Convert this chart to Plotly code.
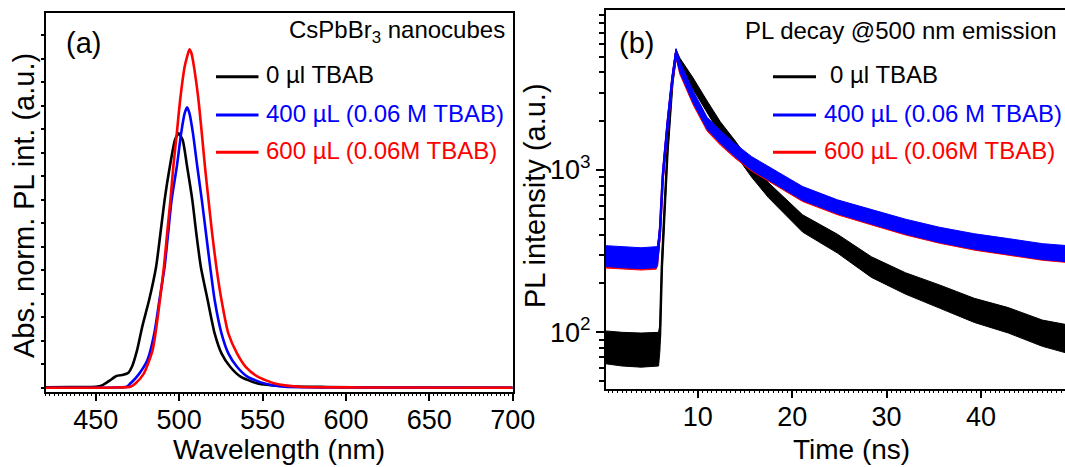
import plotly.graph_objects as go

# ---------------- Panel (a): PL spectra ----------------
wl_0 = [420, 435, 450.0, 454.1, 458.3, 462.4, 466.5, 469.6, 471.7, 474.8, 477.9, 482.0, 486.2, 488.8,
        491.3, 494.4, 497.5, 499.6, 502.1, 504.8, 507.9, 510.3, 513.0, 517.1, 521.3, 525.4, 530.6,
        536.8, 547.1, 561.6, 588.4, 620, 700]
pl_0 = [0.002, 0.003, 0.004, 0.011, 0.030, 0.050, 0.055, 0.064, 0.089, 0.160, 0.260, 0.373, 0.515, 0.657,
        0.799, 0.940, 1.054, 1.082, 1.054, 0.940, 0.799, 0.657, 0.515, 0.373, 0.231, 0.146, 0.089,
        0.047, 0.018, 0.007, 0.003, 0.001, 0.0]

wl_400 = [420, 450, 462, 468.6, 470.7, 473.8, 476.9, 481.0, 485.1, 488.2, 491.3, 493.4, 495.5, 498.6,
          501.2, 503.3, 504.8, 506.2, 508.3, 510.9, 513.6, 516.1, 518.6, 521.3, 525.4, 529.5, 534.7,
          540.9, 551.2, 563.6, 600, 700]
pl_400 = [0.0, 0.0, 0.001, 0.004, 0.018, 0.040, 0.068, 0.118, 0.231, 0.373, 0.515, 0.657, 0.799, 0.940,
          1.082, 1.167, 1.193, 1.167, 1.082, 0.940, 0.799, 0.657, 0.515, 0.373, 0.231, 0.146, 0.089,
          0.047, 0.018, 0.004, 0.001, 0.0]

wl_600 = [420, 450, 464, 470.7, 473.8, 478.9, 484.1, 487.2, 490.9, 492.8, 494.8, 496.5, 498.6, 500.6,
          503.3, 504.8, 506.2, 507.4, 508.9, 511.6, 513.6, 515.5, 517.6, 519.8, 522.3, 525.4, 529.5,
          534.7, 539.9, 547.1, 557.4, 571.9, 610, 700]
pl_600 = [0.0, 0.0, 0.001, 0.004, 0.018, 0.061, 0.160, 0.302, 0.515, 0.657, 0.799, 0.940, 1.082, 1.224,
          1.366, 1.409, 1.440, 1.423, 1.366, 1.224, 1.082, 0.940, 0.799, 0.657, 0.515, 0.373, 0.231,
          0.146, 0.089, 0.047, 0.018, 0.004, 0.001, 0.0]

# ---------------- Panel (b): PL decay ----------------
t_0 = [0.25, 2, 4, 5.85, 6.0, 6.2, 6.45, 6.8, 7.3, 7.7, 8.1, 9.5, 11, 12.4, 13.9, 15.7, 17.5, 19.3,
       21.1, 24.8, 28.4, 32, 35.6, 39.3, 42.9, 46.5, 48.9]
dec_0 = [82, 80, 79, 80, 95, 254, 515, 1330, 3420, 5240, 4540, 3420, 2455, 1807, 1393, 1000, 753, 594,
         470, 353, 253, 200, 166, 137, 119, 99, 92]
dec_0_lo = [64, 62, 61, 62, 78, 225, 470, 1220, 3200, 4900, 4200, 3150, 2260, 1650, 1270, 905, 675, 528,
            415, 308, 218, 172, 141, 115, 99, 82, 75]
dec_0_hi = [102, 100, 99, 100, 112, 285, 560, 1440, 3650, 5550, 4900, 3700, 2660, 1980, 1530, 1100, 835, 665,
            530, 402, 292, 233, 196, 162, 142, 119, 112]

t_400 = [0.25, 2, 4, 5.6, 5.75, 6.0, 6.3, 6.8, 7.3, 7.7, 8.1, 9.5, 11, 12.4, 13.9, 15.7, 17.5, 19.3,
         21.1, 24.8, 28.4, 32, 35.6, 39.3, 42.9, 46.5, 48.9]
dec_400 = [295, 290, 286, 290, 300, 425, 930, 1930, 3620, 5300, 4330, 2830, 1940, 1600, 1330, 1100, 955, 828,
           718, 594, 515, 448, 398, 362, 337, 314, 306]
dec_400_lo = [255, 250, 247, 250, 262, 385, 850, 1780, 3380, 4950, 4000, 2600, 1780, 1460, 1215, 1000, 868, 750,
              650, 538, 465, 403, 358, 325, 302, 281, 273]
dec_400_hi = [342, 337, 332, 337, 342, 465, 1010, 2080, 3860, 5600, 4680, 3080, 2110, 1750, 1460, 1210, 1050, 912,
              792, 655, 570, 498, 444, 405, 378, 352, 343]

t_600 = t_400
dec_600 = [292, 288, 284, 288, 298, 418, 905, 1900, 3580, 5250, 4250, 2770, 1900, 1575, 1310, 1088, 943, 818,
           710, 588, 510, 444, 395, 359, 335, 312, 304]
dec_600_lo = [249, 245, 242, 245, 257, 375, 815, 1735, 3320, 4880, 3900, 2530, 1735, 1425, 1190, 985, 855, 738,
              640, 530, 459, 398, 354, 321, 299, 278, 270]
dec_600_hi = [335, 330, 325, 330, 336, 458, 990, 2060, 3820, 5550, 4600, 3000, 2070, 1720, 1430, 1190, 1035, 900,
              782, 648, 563, 492, 438, 400, 373, 348, 339]

labels_a = ["0 \u00b5l TBAB", "400 \u00b5L (0.06 M TBAB)", "600 \u00b5L (0.06M TBAB)"]
labels_b = ["0 \u00b5l TBAB", "400 \u00b5L (0.06 M TBAB)", "600 \u00b5L (0.06M TBAB)"]
colors = ["#000000", "#0000FF", "#FF0000"]

minor_log = [50, 60, 70, 80, 90, 200, 300, 400, 500, 600, 700, 800, 900,
             2000, 3000, 4000, 5000, 6000, 7000, 8000, 9000]

W, H = 1065, 467
FONT = "Liberation Sans, Arial, sans-serif"


def px(x):
    return x / W


def py(y):
    return 1 - y / H


fig = go.Figure()

# Panel (a) curves
for wl, pl, c in [(wl_0, pl_0, colors[0]), (wl_400, pl_400, colors[1]), (wl_600, pl_600, colors[2])]:
    fig.add_trace(go.Scatter(x=wl, y=pl, mode="lines", line=dict(color=c, width=2.6, shape="spline", smoothing=0.6),
                             xaxis="x", yaxis="y", showlegend=False, hoverinfo="skip"))

# Panel (b) decay bands: black, red, blue (blue on top)
for t, c_, lo, hi, col in [(t_0, dec_0, dec_0_lo, dec_0_hi, colors[0]),
                           (t_600, dec_600, dec_600_lo, dec_600_hi, colors[2]),
                           (t_400, dec_400, dec_400_lo, dec_400_hi, colors[1])]:
    fig.add_trace(go.Scatter(x=list(t) + list(t)[::-1], y=list(hi) + list(lo)[::-1], mode="lines",
                             fill="toself", fillcolor=col, line=dict(color=col, width=1),
                             xaxis="x2", yaxis="y2", showlegend=False, hoverinfo="skip"))
    fig.add_trace(go.Scatter(x=t, y=c_, mode="lines", line=dict(color=col, width=2.5),
                             xaxis="x2", yaxis="y2", showlegend=False, hoverinfo="skip"))

axis_common = dict(showline=True, linecolor="black", linewidth=1.5, showgrid=False, zeroline=False,
                   tickcolor="black", tickwidth=1.5, automargin=False,
                   tickfont=dict(family=FONT, size=27, color="black"))

fig.update_layout(
    width=W, height=H, margin=dict(l=0, r=0, t=0, b=0),
    plot_bgcolor="white", paper_bgcolor="white", showlegend=False,
    font=dict(family=FONT, color="black"),
    xaxis=dict(domain=[px(45.7), px(512.7)], range=[420, 700], dtick=50, tick0=0, ticks="outside", ticklen=7,
               ticklabelstandoff=-4, mirror=True,
               minor=dict(ticks="outside", dtick=2.5, ticklen=2, tickwidth=1, tickcolor="black"),
               anchor="y", **axis_common),
    yaxis=dict(domain=[py(392.3), py(13.3)], range=[-0.0196, 1.593], dtick=0.1, tick0=0, ticks="outside",
               ticklen=3, showticklabels=False, mirror=True, anchor="x", **axis_common),
    xaxis2=dict(domain=[px(605.7), 1.0], range=[0.25, 48.9], tickvals=[10, 20, 30, 40], ticks="outside",
                ticklen=7, ticklabelstandoff=-4, mirror=True,
                minor=dict(ticks="outside", dtick=0.5, ticklen=2, tickwidth=1, tickcolor="black"),
                anchor="y2", **axis_common),
    yaxis2=dict(domain=[py(389.3), py(10)], type="log", range=[1.649, 3.986], tickvals=[100, 1000],
                ticktext=["10<sup>2</sup>", "10<sup>3</sup>"], ticks="outside", ticklen=8,
                minor=dict(tickvals=minor_log, ticks="outside", ticklen=5, tickwidth=1.5, tickcolor="black"),
                anchor="x2", **axis_common),
)

annotations = []
shapes = []


def text(x, y, s, size, xanchor="left", color="black", angle=0, yanchor="middle"):
    annotations.append(dict(x=px(x), y=py(y), xref="paper", yref="paper", text=s, showarrow=False,
                            xanchor=xanchor, yanchor=yanchor, textangle=angle,
                            font=dict(family=FONT, size=size, color=color)))


# Panel labels and titles
text(64, 43, "(a)", 29)
text(617, 43, "(b)", 29)
text(507, 32, "CsPbBr<sub>3</sub> nanocubes", 24, xanchor="right")
text(1059, 30, "PL decay @500 nm emission", 24, xanchor="right")
text(279, 467, "Wavelength (nm)", 28, xanchor="center", yanchor="bottom")
text(851, 467, "Time (ns)", 28, xanchor="center", yanchor="bottom")
text(24, 206, "Abs. norm. PL int. (a.u.)", 29, xanchor="center", angle=-90)
text(535, 196, "PL intensity (a.u.)", 29, xanchor="center", angle=-90)

# Legend keys
rows = [76.7, 115, 152.3]
for i in range(3):
    shapes.append(dict(type="line", xref="paper", yref="paper", x0=px(216), x1=px(258.5),
                       y0=py(rows[i]), y1=py(rows[i]), line=dict(color=colors[i], width=3)))
    text(264, rows[i] - 2, labels_a[i], 24, color=colors[i])
    shapes.append(dict(type="line", xref="paper", yref="paper", x0=px(773), x1=px(816),
                       y0=py(rows[i]), y1=py(rows[i]), line=dict(color=colors[i], width=3)))
    text(828 if i == 0 else 822, rows[i] - 2, labels_b[i], 24, color=colors[i])

fig.update_layout(annotations=annotations, shapes=shapes)
fig.write_html("out.html")
